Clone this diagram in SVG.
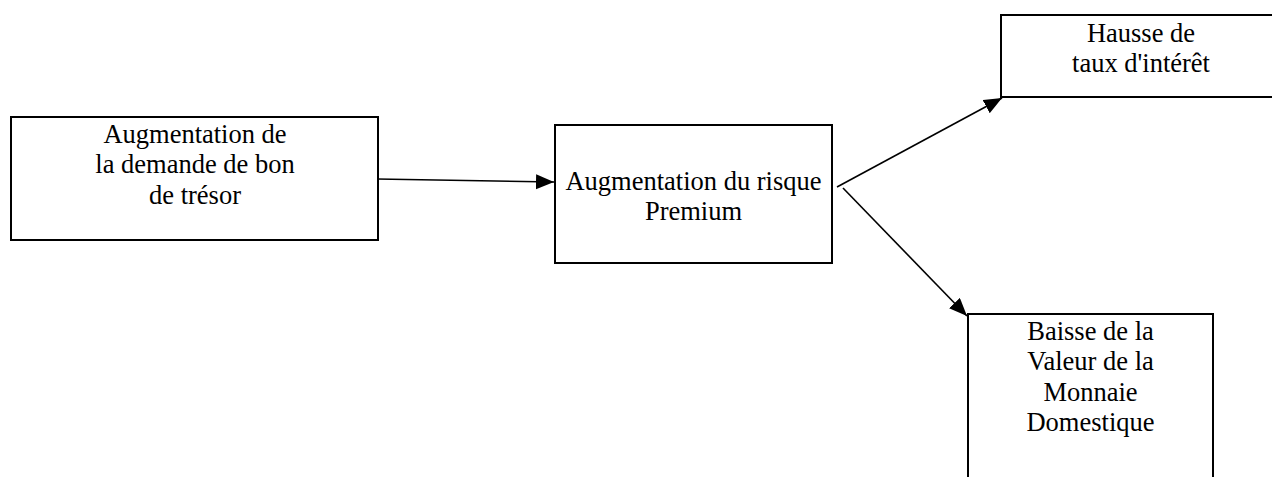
<svg xmlns="http://www.w3.org/2000/svg" width="1272" height="477" viewBox="0 0 1272 477">
<style>
.box{fill:#fff;stroke:#000;stroke-width:2}
.t{font-family:"Liberation Serif","Times New Roman",serif;font-size:26.5px;fill:#000;text-anchor:middle}
.c{stroke:#000;stroke-width:1.6;fill:none;marker-end:url(#ah)}
</style>
<defs>
<marker id="ah" markerUnits="userSpaceOnUse" markerWidth="18" markerHeight="16" refX="18" refY="7.5" orient="auto">
<path d="M0,0 L18,7.5 L0,15 z" fill="#000"/>
</marker>
</defs>
<rect width="1272" height="477" fill="#fff"/>
<g id="n1">
<rect class="box" x="11" y="117" width="367" height="123"/>
<text class="t" x="195" y="143">Augmentation de</text>
<text class="t" x="195" y="173">la demande de bon</text>
<text class="t" x="195" y="204">de trésor</text>
</g>
<g id="n2">
<rect class="box" x="555" y="125" width="277" height="138"/>
<text class="t" x="693.5" y="190">Augmentation du risque</text>
<text class="t" x="693.5" y="220">Premium</text>
</g>
<g id="n3">
<rect class="box" x="1001" y="15" width="280" height="82"/>
<text class="t" x="1141" y="42">Hausse de</text>
<text class="t" x="1141" y="72">taux d'intérêt</text>
</g>
<g id="n4">
<rect class="box" x="968" y="314" width="245" height="180"/>
<text class="t" x="1090.5" y="340">Baisse de la</text>
<text class="t" x="1090.5" y="370">Valeur de la</text>
<text class="t" x="1090.5" y="401">Monnaie</text>
<text class="t" x="1090.5" y="431">Domestique</text>
</g>
<g id="connectors">
<line class="c" x1="377" y1="179" x2="554" y2="182"/>
<line class="c" x1="837" y1="187" x2="1002" y2="98"/>
<line class="c" x1="843" y1="188" x2="967" y2="316"/>
</g>
</svg>
